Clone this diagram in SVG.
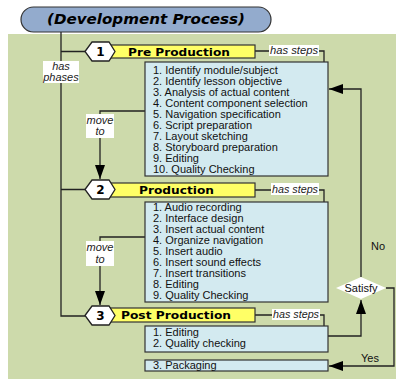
<svg xmlns="http://www.w3.org/2000/svg" width="396" height="379" viewBox="0 0 396 379">
<defs>
<style>
.ln{stroke:#222;stroke-width:1.3;fill:none}
.box{fill:#d3eaf0;stroke:#333;stroke-width:1.2}
.bar{fill:#ffff66;stroke:#333;stroke-width:1.2}
.hex{fill:#fff;stroke:#222;stroke-width:1.3}
.lab{fill:#fff}
.t{font-family:"Liberation Sans",Arial,sans-serif;font-size:11px;fill:#111}
.it{font-family:"Liberation Sans",Arial,sans-serif;font-size:11px;font-style:italic;fill:#222}
.bt{font-family:"DejaVu Sans",Verdana,sans-serif;font-size:11px;font-weight:bold;fill:#000}
.num{font-family:"DejaVu Sans",Verdana,sans-serif;font-size:12px;font-weight:bold;fill:#000;text-anchor:middle}
</style>
<marker id="ah" viewBox="0 0 14 10" refX="14" refY="5" markerWidth="14" markerHeight="10" markerUnits="userSpaceOnUse" orient="auto">
<path d="M0,0 L14,5 L0,10 z" fill="#000"/>
</marker>
</defs>
<rect x="0" y="0" width="396" height="379" fill="#fff"/>
<rect x="8" y="34" width="388" height="345" fill="#cddaab"/>

<g id="title">
<rect x="21" y="7" width="250" height="25" rx="12.5" ry="12.5" fill="#93abcd" stroke="#333" stroke-width="1.2"/>
<text x="47" y="24" font-family="'DejaVu Sans',Verdana,sans-serif" font-size="14" font-weight="bold" font-style="italic" fill="#000" textLength="198" lengthAdjust="spacingAndGlyphs">(Development Process)</text>
</g>

<g id="connectors">
<path class="ln" d="M61,32 V316 H86 M61,51.5 H86 M61,189.5 H86"/>
<path class="ln" d="M255,51 H324 V62"/>
<path class="ln" d="M255,190 H324 V202"/>
<path class="ln" d="M255,315 H324 V326"/>
<path class="ln" d="M145,111 H100 V179" marker-end="url(#ah)"/>
<path class="ln" d="M145,237 H100 V305" marker-end="url(#ah)"/>
<path class="ln" d="M328,336 H361 V300" marker-end="url(#ah)"/>
<path class="ln" d="M361,277 V89 H329" marker-end="url(#ah)"/>
<path class="ln" d="M386,288 H394 V366 H329" marker-end="url(#ah)"/>
</g>

<g id="has-phases">
<rect class="lab" x="43" y="61" width="36" height="22"/>
<text class="it" x="61" y="70" text-anchor="middle">has</text>
<text class="it" x="61" y="81" text-anchor="middle">phases</text>
</g>

<g id="move-to-1">
<rect class="lab" x="86" y="114" width="28" height="24"/>
<text class="it" x="100" y="123.5" text-anchor="middle">move</text>
<text class="it" x="100" y="135" text-anchor="middle">to</text>
</g>
<g id="move-to-2">
<rect class="lab" x="86" y="241" width="28" height="25"/>
<text class="it" x="100" y="250.5" text-anchor="middle">move</text>
<text class="it" x="100" y="262.5" text-anchor="middle">to</text>
</g>

<g id="phase1">
<rect class="bar" x="106" y="45" width="149" height="13"/>
<polygon class="hex" points="85,51.5 92,42 109,42 115,51.5 109,61 92,61"/>
<text class="num" x="100.5" y="56">1</text>
<text class="bt" x="128" y="55.5" textLength="102" lengthAdjust="spacingAndGlyphs">Pre Production</text>
</g>
<g id="steps-label-1">
<rect class="lab" x="269" y="45" width="50" height="11"/>
<text class="it" x="270" y="54" textLength="48" lengthAdjust="spacingAndGlyphs">has steps</text>
</g>
<g id="steps1">
<rect class="box" x="145" y="62" width="183" height="114"/>
<text class="t" x="153" y="74">1. Identify module/subject</text>
<text class="t" x="153" y="85">2. Identify lesson objective</text>
<text class="t" x="153" y="96">3. Analysis of actual content</text>
<text class="t" x="153" y="107">4. Content component selection</text>
<text class="t" x="153" y="118">5. Navigation specification</text>
<text class="t" x="153" y="129">6. Script preparation</text>
<text class="t" x="153" y="140">7. Layout sketching</text>
<text class="t" x="153" y="151">8. Storyboard preparation</text>
<text class="t" x="153" y="162">9. Editing</text>
<text class="t" x="153" y="173">10. Quality Checking</text>
</g>

<g id="phase2">
<rect class="bar" x="106" y="183" width="149" height="14"/>
<polygon class="hex" points="85,189.5 92,180 109,180 115,189.5 109,199 92,199"/>
<text class="num" x="100.5" y="194">2</text>
<text class="bt" x="139" y="194" textLength="75" lengthAdjust="spacingAndGlyphs">Production</text>
</g>
<g id="steps-label-2">
<rect class="lab" x="271" y="183" width="48" height="12"/>
<text class="it" x="272" y="192.5" textLength="46" lengthAdjust="spacingAndGlyphs">has steps</text>
</g>
<g id="steps2">
<rect class="box" x="145" y="202" width="183" height="100"/>
<text class="t" x="153" y="211">1. Audio recording</text>
<text class="t" x="153" y="222">2. Interface design</text>
<text class="t" x="153" y="233">3. Insert actual content</text>
<text class="t" x="153" y="244">4. Organize navigation</text>
<text class="t" x="153" y="255">5. Insert audio</text>
<text class="t" x="153" y="266">6. Insert sound effects</text>
<text class="t" x="153" y="277">7. Insert transitions</text>
<text class="t" x="153" y="288">8. Editing</text>
<text class="t" x="153" y="299">9. Quality Checking</text>
</g>

<g id="phase3">
<rect class="bar" x="106" y="308" width="149" height="14"/>
<polygon class="hex" points="85,315.5 92,306 109,306 115,315.5 109,325 92,325"/>
<text class="num" x="100.5" y="320">3</text>
<text class="bt" x="121" y="319" textLength="110" lengthAdjust="spacingAndGlyphs">Post Production</text>
</g>
<g id="steps-label-3">
<rect class="lab" x="272" y="309" width="48" height="11"/>
<text class="it" x="273" y="318" textLength="46" lengthAdjust="spacingAndGlyphs">has steps</text>
</g>
<g id="steps3">
<rect class="box" x="145" y="326" width="183" height="26"/>
<text class="t" x="153" y="336">1. Editing</text>
<text class="t" x="153" y="347">2. Quality checking</text>
</g>
<g id="packaging">
<rect class="box" x="145" y="360" width="183" height="11"/>
<text class="t" x="153" y="369">3. Packaging</text>
</g>

<g id="satisfy">
<polygon points="336,288 361,277 386,288 361,299" fill="#fff"/>
<text class="t" x="361" y="291.5" text-anchor="middle">Satisfy</text>
</g>
<text class="t" x="378" y="250" text-anchor="middle">No</text>
<text class="t" x="370" y="362" text-anchor="middle">Yes</text>
</svg>
